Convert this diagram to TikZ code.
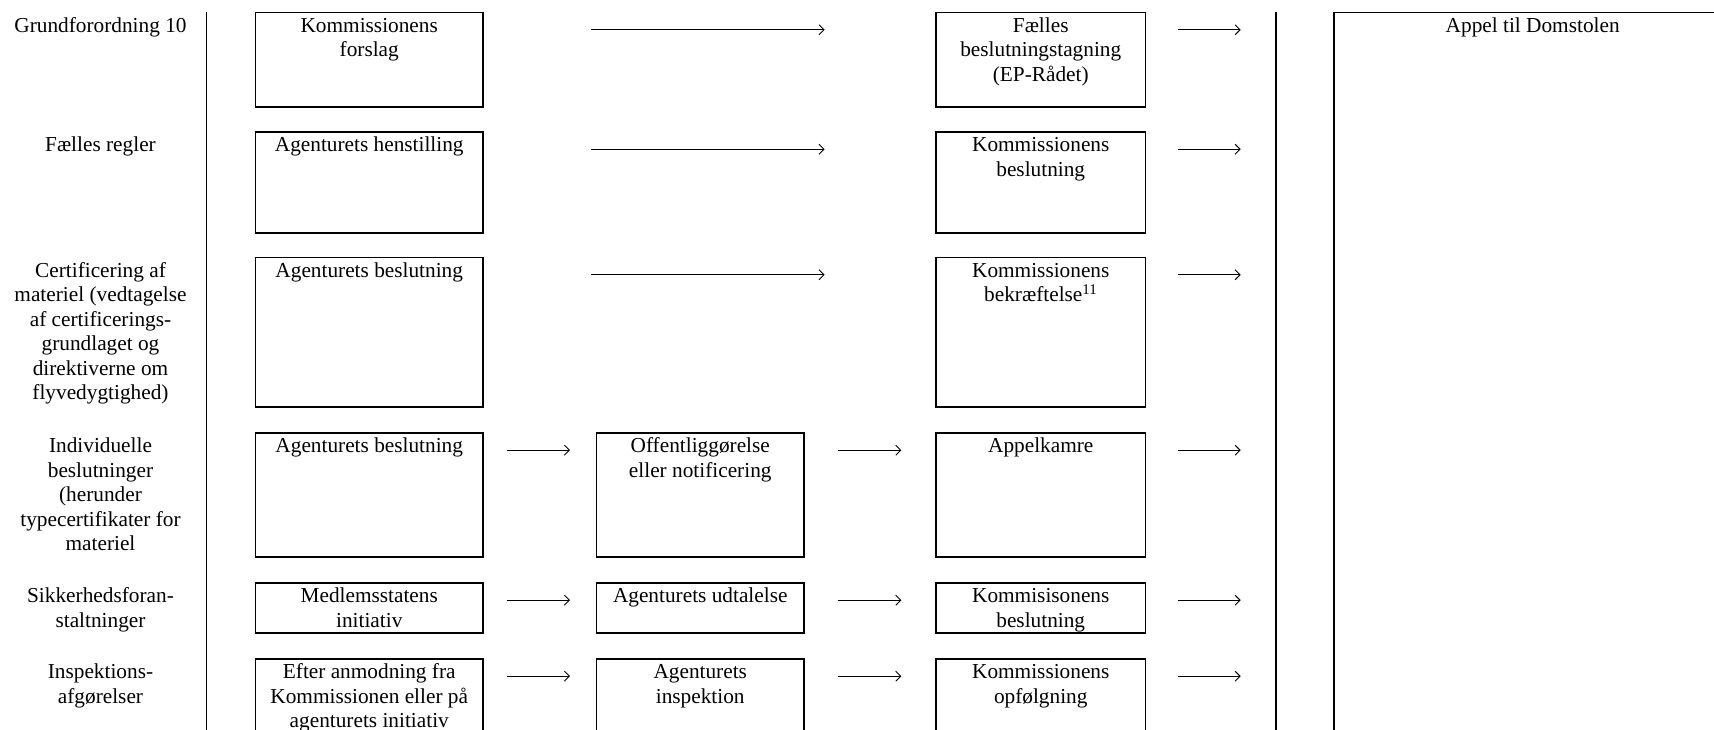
\documentclass[tikz,border=0pt]{standalone}
\usepackage{fontspec}
\setmainfont{Liberation Serif}
\usetikzlibrary{arrows.meta,calc}
\newcommand{\cellbox}[3]{\parbox[c][#2][t]{#1}{\centering\rule{0pt}{20pt}#3\par}}
\newcommand{\labbox}[1]{\parbox[t]{200pt}{\centering\rule{0pt}{20pt}#1\par}}
\begin{document}
\begin{tikzpicture}[x=1pt,y=-1pt,
  font=\fontsize{21.3pt}{24.5pt}\selectfont,
  box/.style={draw, line width=1.6pt, inner sep=0pt, outer sep=0pt, anchor=north west},
  lab/.style={inner sep=0pt, outer sep=0pt, anchor=north west},
  arr/.style={line width=0.9pt, -{Straight Barb[length=5pt,width=10pt]}},
  tblline/.style={line width=1.6pt}]
\useasboundingbox (0,0) rectangle (1714,729);
\clip (0,0) rectangle (1714,729);

% table borders
\coordinate (v1t) at (206.6,12.3);
\coordinate (v1b) at (206.6,740);
\coordinate (v2t) at (1276,12.3);
\coordinate (v2b) at (1276,740);
\draw[tblline] (v1t) -- (v1b);
\draw[tblline] (v2t) -- (v2b);

% row labels
\node[lab] (l1) at (0.5,12.3) {\labbox{Grundforordning 10}};
\node[lab] (l2) at (0.5,131.7) {\labbox{Fælles regler}};
\node[lab] (l3) at (0.5,257.3) {\labbox{Certificering af\\materiel (vedtagelse\\af certificerings-\\grundlaget og\\direktiverne om\\flyvedygtighed)}};
\node[lab] (l4) at (0.5,432.7) {\labbox{Individuelle\\beslutninger\\(herunder\\typecertifikater for\\materiel}};
\node[lab] (l5) at (0.5,582.7) {\labbox{Sikkerhedsforan-\\staltninger}};
\node[lab] (l6) at (0.5,658.7) {\labbox{Inspektions-\\afgørelser}};

% column 1
\node[box] (a1) at (255.6,12.3) {\cellbox{227.3pt}{94.4pt}{Kommissionens\\forslag}};
\node[box] (a2) at (255.6,131.7) {\cellbox{227.3pt}{101pt}{Agenturets henstilling}};
\node[box] (a3) at (255.6,257.3) {\cellbox{227.3pt}{149.4pt}{Agenturets beslutning}};
\node[box] (a4) at (255.6,432.7) {\cellbox{227.3pt}{124pt}{Agenturets beslutning}};
\node[box] (a5) at (255.6,582.7) {\cellbox{227.3pt}{50pt}{Medlemsstatens\\initiativ}};
\node[box] (a6) at (255.6,658.7) {\cellbox{227.3pt}{120pt}{Efter anmodning fra\\Kommissionen eller på\\agenturets initiativ}};

% column 2
\node[box] (b4) at (596.5,432.7) {\cellbox{207.5pt}{124pt}{Offentliggørelse\\eller notificering}};
\node[box] (b5) at (596.5,582.7) {\cellbox{207.5pt}{50pt}{Agenturets udtalelse}};
\node[box] (b6) at (596.5,658.7) {\cellbox{207.5pt}{120pt}{Agenturets\\inspektion}};

% column 3
\node[box] (c1) at (936,12.3) {\cellbox{209.5pt}{94.4pt}{Fælles\\beslutningstagning\\(EP-Rådet)}};
\node[box] (c2) at (936,131.7) {\cellbox{209.5pt}{101pt}{Kommissionens\\beslutning}};
\node[box] (c3) at (936,257.3) {\cellbox{209.5pt}{149.4pt}{Kommissionens\\bekræftelse\textsuperscript{11}}};
\node[box] (c4) at (936,432.7) {\cellbox{209.5pt}{124pt}{Appelkamre}};
\node[box] (c5) at (936,582.7) {\cellbox{209.5pt}{50pt}{Kommisisonens\\beslutning}};
\node[box] (c6) at (936,658.7) {\cellbox{209.5pt}{120pt}{Kommissionens\\opfølgning}};

% column 4
\node[box] (ap) at (1333.7,12.3) {\cellbox{398pt}{800pt}{Appel til Domstolen}};

% long arrows col1 -> col3
\foreach \r in {1,2,3}{
  \draw[arr, shorten <=108pt, shorten >=111.4pt]
    ($(a\r.north east)+(0,17.5)$) -- ($(c\r.north west)+(0,17.5)$);
}
% col1 -> col2 and col2 -> col3
\foreach \r in {4,5,6}{
  \draw[arr, shorten <=24pt, shorten >=26.5pt]
    ($(a\r.north east)+(0,17.5)$) -- ($(b\r.north west)+(0,17.5)$);
  \draw[arr, shorten <=34pt, shorten >=34.6pt]
    ($(b\r.north east)+(0,17.5)$) -- ($(c\r.north west)+(0,17.5)$);
}
% col3 -> Domstolen
\foreach \r in {1,2,3,4,5,6}{
  \draw[arr, shorten <=32pt, shorten >=93pt]
    ($(c\r.north east)+(0,17.5)$) -- ($(c\r.north east -| ap.west)+(0,17.5)$);
}
\end{tikzpicture}
\end{document}
